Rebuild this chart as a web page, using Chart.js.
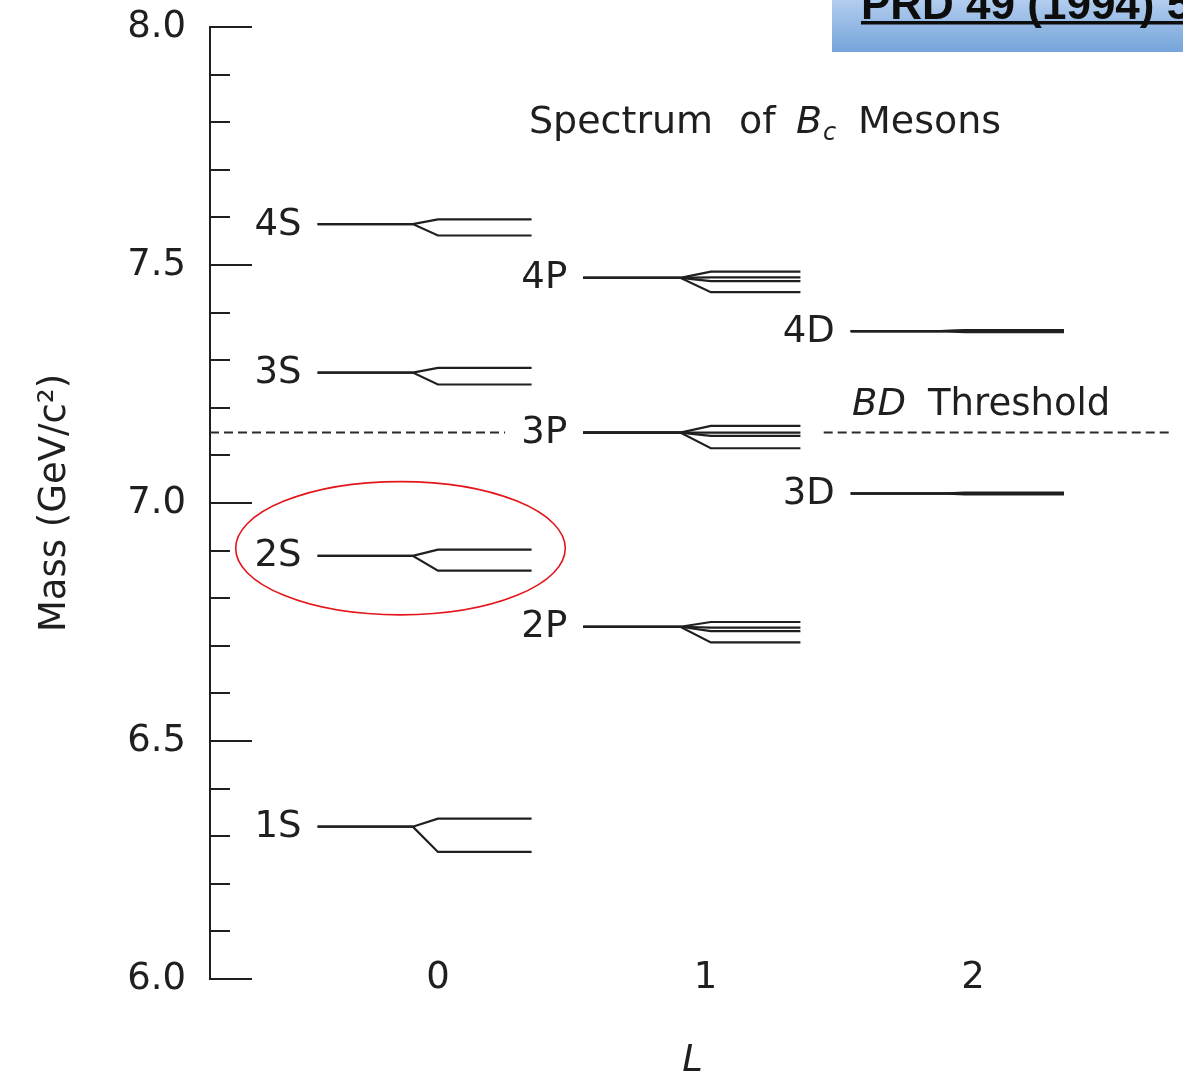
<!DOCTYPE html>
<html>
<head>
<meta charset="utf-8">
<title>Spectrum of Bc Mesons</title>
<script src="https://cdn.jsdelivr.net/npm/chart.js@4.4.1/dist/chart.umd.min.js"></script>
<style>
  html, body { margin: 0; padding: 0; background: #ffffff; }
  #wrap { width: 1183px; height: 1072px; position: relative; overflow: hidden; }
  canvas { display: block; }
</style>
</head>
<body>
<div id="wrap"><canvas id="spectrum" width="1183" height="1072"></canvas></div>
<script>
// Bc multiplets: name, orbital angular momentum L, centroid mass and the split states (GeV/c^2)
const levelNames   = ['1S', '2S', '3S', '4S', '2P', '3P', '4P', '3D', '4D'];
const levelL       = [0, 0, 0, 0, 1, 1, 1, 2, 2];
const centroidMass = [6.320, 6.889, 7.274, 7.586, 6.740, 7.148, 7.473, 7.020, 7.361];
const stateMasses  = [
  [6.267, 6.337],
  [6.858, 6.902],
  [7.249, 7.284],
  [7.562, 7.596],
  [6.707, 6.731, 6.738, 6.750],
  [7.115, 7.141, 7.148, 7.162],
  [7.443, 7.466, 7.474, 7.486],
  [7.018, 7.020, 7.021, 7.022],
  [7.359, 7.361, 7.362, 7.363]
];
const thresholdMass = 7.148;           // B + D threshold
const lTickValues   = [0, 1, 2];
const lTickLabels   = ['0', '1', '2'];

// Horizontal shape of a level, in units of L relative to its column
const LEVEL_SHAPE = {
  0: { start: -0.450, split: -0.094, reach: 0.000, end: 0.350 },
  1: { start: -0.457, split: -0.094, reach: 0.020, end: 0.355 },
  2: { start: -0.457, split: -0.120, reach: -0.030, end: 0.340 }
};
const INK = '#1f1f1f';
const FONT = 'DejaVu Sans';

const datasets = [];
levelNames.forEach((name, i) => {
  const L = levelL[i];
  const s = LEVEL_SHAPE[L];
  const c = centroidMass[i];
  stateMasses[i].forEach(m => {
    datasets.push({
      label: name,
      showLine: true,
      borderColor: INK,
      borderWidth: 2.2,
      pointRadius: 0,
      tension: 0,
      data: [
        { x: L + s.start, y: c },
        { x: L + s.split, y: c },
        { x: L + s.reach, y: m },
        { x: L + s.end,   y: m }
      ]
    });
  });
});

// BD threshold, interrupted around the P column
datasets.push({
  label: 'BD threshold',
  showLine: true,
  borderColor: '#2a2a2a',
  borderWidth: 2,
  borderDash: [9, 5],
  pointRadius: 0,
  spanGaps: false,
  data: [
    { x: -0.852, y: thresholdMass },
    { x: 0.251,  y: thresholdMass },
    { x: 0.80,   y: null },
    { x: 1.442,  y: thresholdMass },
    { x: 2.742,  y: thresholdMass }
  ]
});

const decor = {
  id: 'decor',
  afterDraw(chart) {
    const { ctx, chartArea, scales: { x, y } } = chart;
    ctx.save();

    // inward tick marks on the mass axis, every 0.1 with longer ones every 0.5
    ctx.strokeStyle = INK;
    ctx.lineWidth = 2;
    for (let i = 0; i <= 20; i++) {
      const py = Math.round(y.getPixelForValue(6 + i / 10));
      const len = i % 5 === 0 ? 42 : 20;
      ctx.beginPath();
      ctx.moveTo(chartArea.left, py);
      ctx.lineTo(chartArea.left + len, py);
      ctx.stroke();
    }

    // L tick labels, level with the bottom of the mass axis
    ctx.fillStyle = INK;
    ctx.font = `37px "${FONT}"`;
    ctx.textAlign = 'center';
    ctx.textBaseline = 'middle';
    lTickValues.forEach((v, i) => {
      ctx.fillText(lTickLabels[i], x.getPixelForValue(v), y.getPixelForValue(6.0) - 1);
    });

    // axis title L
    ctx.font = `italic 37px "${FONT}"`;
    ctx.textBaseline = 'alphabetic';
    ctx.fillText('L', (x.left + x.right) / 2 - 4, 1071);

    // level names
    ctx.font = `37px "${FONT}"`;
    ctx.textAlign = 'right';
    ctx.textBaseline = 'middle';
    levelNames.forEach((name, i) => {
      const L = levelL[i];
      const px = x.getPixelForValue(L + LEVEL_SHAPE[L].start) - 16;
      ctx.fillText(name, px, y.getPixelForValue(centroidMass[i]) + 1);
    });

    // heading
    ctx.textAlign = 'left';
    ctx.textBaseline = 'alphabetic';
    ctx.font = `38px "${FONT}"`;
    ctx.fillText('Spectrum', 529, 133);
    ctx.fillText('of', 739, 133);
    ctx.font = `italic 38px "${FONT}"`;
    ctx.fillText('B', 796, 133);
    ctx.font = `italic 24px "${FONT}"`;
    ctx.fillText('c', 823, 140);
    ctx.font = `38px "${FONT}"`;
    ctx.fillText('Mesons', 858, 133);

    // threshold label
    ctx.font = `italic 37px "${FONT}"`;
    ctx.fillText('BD', 852, 415);
    ctx.font = `37px "${FONT}"`;
    ctx.fillText('Threshold', 928, 415);

    // highlight ring around the 2S multiplet
    const cx = x.getPixelForValue(-0.14);
    const cy = y.getPixelForValue(6.905);
    const rx = x.getPixelForValue(-0.14 + 0.616) - cx;
    const ry = y.getPixelForValue(6.905) - y.getPixelForValue(6.905 + 0.140);
    ctx.strokeStyle = '#e3161b';
    ctx.lineWidth = 1.6;
    ctx.setLineDash([]);
    ctx.beginPath();
    ctx.ellipse(cx, cy, rx, ry, 0, 0, Math.PI * 2);
    ctx.stroke();

    // reference banner in the corner
    const g = ctx.createLinearGradient(0, 0, 0, 52);
    g.addColorStop(0, '#b3cdee');
    g.addColorStop(1, '#74a4da');
    ctx.fillStyle = g;
    ctx.fillRect(832, 0, 1183 - 832, 52);
    ctx.fillStyle = '#0d0d0d';
    ctx.font = 'bold 44px "Liberation Sans"';
    ctx.textAlign = 'left';
    ctx.fillText('PRD 49 (1994) 5845', 861, 19);
    ctx.fillRect(861, 21, 1183 - 861, 3.5);

    ctx.restore();
  }
};

new Chart(document.getElementById('spectrum'), {
  type: 'scatter',
  data: { datasets },
  options: {
    responsive: false,
    animation: false,
    events: [],
    layout: { padding: { top: 27, bottom: 93, left: 0, right: 0 } },
    plugins: { legend: { display: false }, tooltip: { enabled: false } },
    elements: { point: { radius: 0 }, line: { tension: 0 } },
    scales: {
      x: { type: 'linear', min: -0.852, max: 2.785, display: false },
      y: {
        type: 'linear',
        min: 6,
        max: 8,
        afterFit(scale) { scale.width = 210; },
        // invisible outward tick slots keep the labels clear of the axis line
        grid: { display: true, drawOnChartArea: false, drawTicks: true, tickLength: 24, color: 'rgba(0,0,0,0)' },
        border: { display: true, color: INK, width: 2 },
        ticks: {
          stepSize: 0.5,
          padding: 0,
          color: INK,
          font: { family: FONT, size: 37 },
          callback: v => v.toFixed(1)
        },
        title: {
          display: true,
          text: 'Mass (GeV/c²)',
          color: INK,
          font: { family: FONT, size: 37 },
          padding: { top: 33, bottom: 0 }
        }
      }
    }
  },
  plugins: [decor]
});
</script>
</body>
</html>
